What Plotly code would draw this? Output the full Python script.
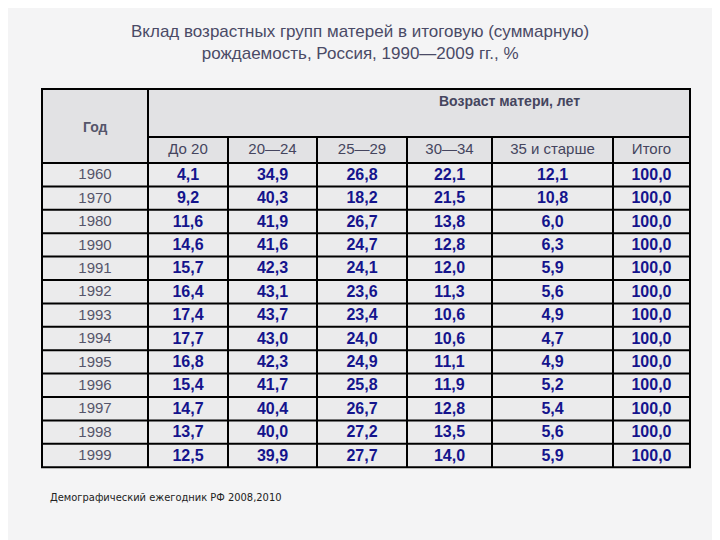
import plotly.graph_objects as go

years = ["1960", "1970", "1980", "1990", "1991", "1992", "1993", "1994",
         "1995", "1996", "1997", "1998", "1999"]
age_groups = ["До 20", "20—24", "25—29", "30—34", "35 и старше", "Итого"]
u20 = ["4,1", "9,2", "11,6", "14,6", "15,7", "16,4", "17,4", "17,7", "16,8", "15,4", "14,7", "13,7", "12,5"]
a20_24 = ["34,9", "40,3", "41,9", "41,6", "42,3", "43,1", "43,7", "43,0", "42,3", "41,7", "40,4", "40,0", "39,9"]
a25_29 = ["26,8", "18,2", "26,7", "24,7", "24,1", "23,6", "23,4", "24,0", "24,9", "25,8", "26,7", "27,2", "27,7"]
a30_34 = ["22,1", "21,5", "13,8", "12,8", "12,0", "11,3", "10,6", "10,6", "11,1", "11,9", "12,8", "13,5", "14,0"]
a35p = ["12,1", "10,8", "6,0", "6,3", "5,9", "5,6", "4,9", "4,7", "4,9", "5,2", "5,4", "5,6", "5,9"]
total = ["100,0"] * 13
columns = [u20, a20_24, a25_29, a30_34, a35p, total]

# table geometry (pixel space of the 720x540 page)
col_edges = [42, 148, 228, 317, 407, 492, 613, 690]
top, sub_top, body_top, row_h = 89, 137, 163, 23.4
bottom = body_top + row_h * len(years)

fig = go.Figure()
shapes = []
shapes.append(dict(type="rect", x0=col_edges[0], x1=col_edges[-1], y0=top, y1=body_top,
                   fillcolor="#e2e2e4", line_width=0, layer="below"))
shapes.append(dict(type="rect", x0=col_edges[0], x1=col_edges[-1], y0=body_top, y1=bottom,
                   fillcolor="#ebebec", line_width=0, layer="below"))
line = dict(color="black", width=2)
# outer frame
shapes.append(dict(type="rect", x0=col_edges[0], x1=col_edges[-1], y0=top, y1=bottom, line=line))
shapes.append(dict(type="line", x0=col_edges[1], x1=col_edges[1], y0=top, y1=bottom, line=line))
for x in col_edges[2:-1]:
    shapes.append(dict(type="line", x0=x, x1=x, y0=sub_top, y1=bottom, line=line))
shapes.append(dict(type="line", x0=col_edges[1], x1=col_edges[-1], y0=sub_top, y1=sub_top, line=line))
for i in range(len(years)):
    y = body_top + i * row_h
    shapes.append(dict(type="line", x0=col_edges[0], x1=col_edges[-1], y0=y, y1=y, line=line))

row_y = [body_top + (i + 0.5) * row_h + 1 for i in range(len(years))]
centers = [(col_edges[i] + col_edges[i + 1]) / 2 for i in range(len(col_edges) - 1)]

fig.add_trace(go.Scatter(x=[centers[0]] * len(years), y=row_y, mode="text", text=years,
                         textfont=dict(family="Liberation Sans", size=15, color="#55556a")))
for c, vals in zip(centers[1:], columns):
    fig.add_trace(go.Scatter(x=[c] * len(vals), y=row_y, mode="text", text=[f"<b>{v}</b>" for v in vals],
                             textfont=dict(family="Liberation Sans", size=16, color="#14148c")))
fig.add_trace(go.Scatter(x=centers[1:], y=[150] * len(age_groups), mode="text", text=age_groups,
                         textfont=dict(family="Liberation Sans", size=15, color="#45455e")))

ann = [
    dict(x=centers[0], y=127, text="<b>Год</b>", font=dict(size=14, color="#55556a")),
    dict(x=(col_edges[1] + col_edges[-1]) / 2 + 90, y=101, text="<b>Возраст матери, лет</b>",
         font=dict(size=14, color="#45455e")),
    dict(x=360, y=42, text="Вклад возрастных групп матерей в итоговую (суммарную)<br>рождаемость, Россия, 1990—2009 гг., %",
         font=dict(size=17, color="#4a4a66")),
    dict(x=48, y=497, text="Демографический ежегодник РФ 2008,2010", xanchor="left",
         font=dict(size=11, color="#222222", family="DejaVu Sans Condensed")),
]
for a in ann:
    a.update(xref="x", yref="y", showarrow=False)
    a["font"].setdefault("family", "Liberation Sans")

fig.update_layout(
    width=720, height=540, margin=dict(l=0, r=0, t=0, b=0),
    paper_bgcolor="#f4f4f5", plot_bgcolor="#f4f4f5", showlegend=False,
    shapes=shapes, annotations=ann,
    xaxis=dict(range=[8, 728], visible=False, fixedrange=True),
    yaxis=dict(range=[548, 8], visible=False, fixedrange=True),
)
fig.write_html("out.html")
